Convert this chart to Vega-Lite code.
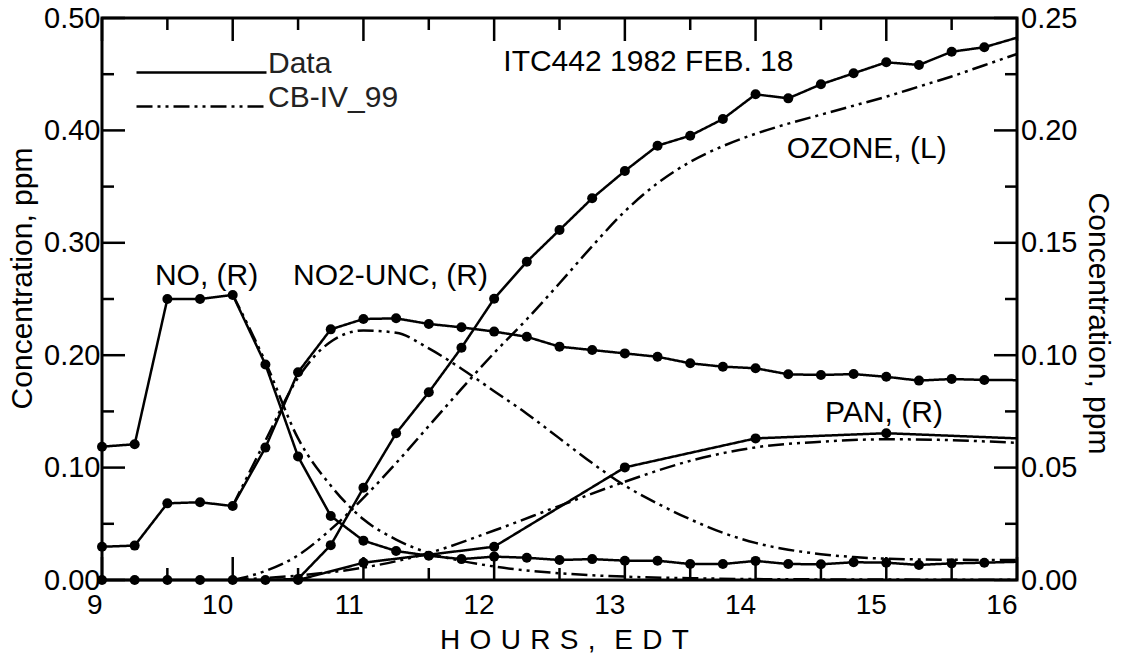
{
  "$schema": "https://vega.github.io/schema/vega-lite/v6.json",
  "width": 915,
  "height": 562,
  "autosize": {"type": "none"},
  "padding": {"left": 102, "top": 18, "right": 107, "bottom": 80},
  "background": "white",
  "config": {
    "view": {"stroke": "black", "strokeWidth": 3},
    "font": "Liberation Sans",
    "axis": {"grid": false, "labelColor": "black", "titleColor": "black", "titleFontWeight": "normal", "labelFont": "Liberation Sans", "titleFont": "Liberation Sans"}
  },
  "datasets": {
    "xticks": [
      {"value": 9, "kind": "major"}, {"value": 9.5, "kind": "minor"},
      {"value": 10, "kind": "major"}, {"value": 10.5, "kind": "minor"},
      {"value": 11, "kind": "major"}, {"value": 11.5, "kind": "minor"},
      {"value": 12, "kind": "major"}, {"value": 12.5, "kind": "minor"},
      {"value": 13, "kind": "major"}, {"value": 13.5, "kind": "minor"},
      {"value": 14, "kind": "major"}, {"value": 14.5, "kind": "minor"},
      {"value": 15, "kind": "major"}, {"value": 15.5, "kind": "minor"},
      {"value": 16, "kind": "major"}
    ],
    "lticks": [
      {"value": 0, "kind": "major"}, {"value": 0.05, "kind": "minor"},
      {"value": 0.1, "kind": "major"}, {"value": 0.15, "kind": "minor"},
      {"value": 0.2, "kind": "major"}, {"value": 0.25, "kind": "minor"},
      {"value": 0.3, "kind": "major"}, {"value": 0.35, "kind": "minor"},
      {"value": 0.4, "kind": "major"}, {"value": 0.45, "kind": "minor"},
      {"value": 0.5, "kind": "major"}
    ],
    "rticks": [
      {"value": 0, "kind": "major"}, {"value": 0.025, "kind": "minor"},
      {"value": 0.05, "kind": "major"}, {"value": 0.075, "kind": "minor"},
      {"value": 0.1, "kind": "major"}, {"value": 0.125, "kind": "minor"},
      {"value": 0.15, "kind": "major"}, {"value": 0.175, "kind": "minor"},
      {"value": 0.2, "kind": "major"}, {"value": 0.225, "kind": "minor"},
      {"value": 0.25, "kind": "major"}
    ],
    "ozone_obs": [
      {"hour": 9.0, "value": 0, "source": "Data"},
      {"hour": 9.25, "value": 0, "source": "Data"},
      {"hour": 9.5, "value": 0, "source": "Data"},
      {"hour": 9.75, "value": 0, "source": "Data"},
      {"hour": 10.0, "value": 0, "source": "Data"},
      {"hour": 10.25, "value": 0, "source": "Data"},
      {"hour": 10.5, "value": 0.001, "source": "Data"},
      {"hour": 10.75, "value": 0.031, "source": "Data"},
      {"hour": 11.0, "value": 0.082, "source": "Data"},
      {"hour": 11.25, "value": 0.1305, "source": "Data"},
      {"hour": 11.5, "value": 0.167, "source": "Data"},
      {"hour": 11.75, "value": 0.2067, "source": "Data"},
      {"hour": 12.0, "value": 0.2503, "source": "Data"},
      {"hour": 12.25, "value": 0.2832, "source": "Data"},
      {"hour": 12.5, "value": 0.3114, "source": "Data"},
      {"hour": 12.75, "value": 0.3396, "source": "Data"},
      {"hour": 13.0, "value": 0.3639, "source": "Data"},
      {"hour": 13.25, "value": 0.3864, "source": "Data"},
      {"hour": 13.5, "value": 0.3953, "source": "Data"},
      {"hour": 13.75, "value": 0.4101, "source": "Data"},
      {"hour": 14.0, "value": 0.4321, "source": "Data"},
      {"hour": 14.25, "value": 0.4285, "source": "Data"},
      {"hour": 14.5, "value": 0.441, "source": "Data"},
      {"hour": 14.75, "value": 0.4508, "source": "Data"},
      {"hour": 15.0, "value": 0.4606, "source": "Data"},
      {"hour": 15.25, "value": 0.4582, "source": "Data"},
      {"hour": 15.5, "value": 0.47, "source": "Data"},
      {"hour": 15.75, "value": 0.474, "source": "Data"},
      {"hour": 16.0, "value": 0.4825, "source": "Data"}
    ],
    "right_obs": [
      {"species": "NO", "hour": 9.0, "value": 0.0593, "source": "Data"},
      {"species": "NO", "hour": 9.25, "value": 0.0604, "source": "Data"},
      {"species": "NO", "hour": 9.5, "value": 0.125, "source": "Data"},
      {"species": "NO", "hour": 9.75, "value": 0.125, "source": "Data"},
      {"species": "NO", "hour": 10.0, "value": 0.1268, "source": "Data"},
      {"species": "NO", "hour": 10.25, "value": 0.0959, "source": "Data"},
      {"species": "NO", "hour": 10.5, "value": 0.0549, "source": "Data"},
      {"species": "NO", "hour": 10.75, "value": 0.0285, "source": "Data"},
      {"species": "NO", "hour": 11.0, "value": 0.0175, "source": "Data"},
      {"species": "NO", "hour": 11.25, "value": 0.0129, "source": "Data"},
      {"species": "NO", "hour": 11.5, "value": 0.0108, "source": "Data"},
      {"species": "NO", "hour": 11.75, "value": 0.0093, "source": "Data"},
      {"species": "NO", "hour": 12.0, "value": 0.0104, "source": "Data"},
      {"species": "NO", "hour": 12.25, "value": 0.0099, "source": "Data"},
      {"species": "NO", "hour": 12.5, "value": 0.0089, "source": "Data"},
      {"species": "NO", "hour": 12.75, "value": 0.0093, "source": "Data"},
      {"species": "NO", "hour": 13.0, "value": 0.0086, "source": "Data"},
      {"species": "NO", "hour": 13.25, "value": 0.0086, "source": "Data"},
      {"species": "NO", "hour": 13.5, "value": 0.0071, "source": "Data"},
      {"species": "NO", "hour": 13.75, "value": 0.0071, "source": "Data"},
      {"species": "NO", "hour": 14.0, "value": 0.0085, "source": "Data"},
      {"species": "NO", "hour": 14.25, "value": 0.0071, "source": "Data"},
      {"species": "NO", "hour": 14.5, "value": 0.007, "source": "Data"},
      {"species": "NO", "hour": 14.75, "value": 0.0079, "source": "Data"},
      {"species": "NO", "hour": 15.0, "value": 0.0077, "source": "Data"},
      {"species": "NO", "hour": 15.25, "value": 0.0067, "source": "Data"},
      {"species": "NO", "hour": 15.5, "value": 0.0074, "source": "Data"},
      {"species": "NO", "hour": 15.75, "value": 0.0077, "source": "Data"},
      {"species": "NO", "hour": 16.0, "value": 0.0081, "source": "Data"},
      {"species": "NO2-UNC", "hour": 9.0, "value": 0.0148, "source": "Data"},
      {"species": "NO2-UNC", "hour": 9.25, "value": 0.0153, "source": "Data"},
      {"species": "NO2-UNC", "hour": 9.5, "value": 0.0341, "source": "Data"},
      {"species": "NO2-UNC", "hour": 9.75, "value": 0.0346, "source": "Data"},
      {"species": "NO2-UNC", "hour": 10.0, "value": 0.0329, "source": "Data"},
      {"species": "NO2-UNC", "hour": 10.25, "value": 0.0589, "source": "Data"},
      {"species": "NO2-UNC", "hour": 10.5, "value": 0.0924, "source": "Data"},
      {"species": "NO2-UNC", "hour": 10.75, "value": 0.1115, "source": "Data"},
      {"species": "NO2-UNC", "hour": 11.0, "value": 0.1161, "source": "Data"},
      {"species": "NO2-UNC", "hour": 11.25, "value": 0.1164, "source": "Data"},
      {"species": "NO2-UNC", "hour": 11.5, "value": 0.1139, "source": "Data"},
      {"species": "NO2-UNC", "hour": 11.75, "value": 0.1124, "source": "Data"},
      {"species": "NO2-UNC", "hour": 12.0, "value": 0.1105, "source": "Data"},
      {"species": "NO2-UNC", "hour": 12.25, "value": 0.1082, "source": "Data"},
      {"species": "NO2-UNC", "hour": 12.5, "value": 0.1038, "source": "Data"},
      {"species": "NO2-UNC", "hour": 12.75, "value": 0.1023, "source": "Data"},
      {"species": "NO2-UNC", "hour": 13.0, "value": 0.1008, "source": "Data"},
      {"species": "NO2-UNC", "hour": 13.25, "value": 0.0993, "source": "Data"},
      {"species": "NO2-UNC", "hour": 13.5, "value": 0.0964, "source": "Data"},
      {"species": "NO2-UNC", "hour": 13.75, "value": 0.0949, "source": "Data"},
      {"species": "NO2-UNC", "hour": 14.0, "value": 0.0942, "source": "Data"},
      {"species": "NO2-UNC", "hour": 14.25, "value": 0.0915, "source": "Data"},
      {"species": "NO2-UNC", "hour": 14.5, "value": 0.0912, "source": "Data"},
      {"species": "NO2-UNC", "hour": 14.75, "value": 0.0916, "source": "Data"},
      {"species": "NO2-UNC", "hour": 15.0, "value": 0.0904, "source": "Data"},
      {"species": "NO2-UNC", "hour": 15.25, "value": 0.0887, "source": "Data"},
      {"species": "NO2-UNC", "hour": 15.5, "value": 0.0894, "source": "Data"},
      {"species": "NO2-UNC", "hour": 15.75, "value": 0.089, "source": "Data"},
      {"species": "NO2-UNC", "hour": 16.0, "value": 0.0889, "source": "Data"},
      {"species": "PAN", "hour": 10.5, "value": 0, "source": "Data"},
      {"species": "PAN", "hour": 11.0, "value": 0.0077, "source": "Data"},
      {"species": "PAN", "hour": 12.0, "value": 0.0148, "source": "Data"},
      {"species": "PAN", "hour": 13.0, "value": 0.0501, "source": "Data"},
      {"species": "PAN", "hour": 14.0, "value": 0.063, "source": "Data"},
      {"species": "PAN", "hour": 15.0, "value": 0.0653, "source": "Data"},
      {"species": "PAN", "hour": 16.0, "value": 0.063, "source": "Data"}
    ],
    "ozone_model": [
      {"hour": 10.0, "value": 0, "source": "CB-IV_99"},
      {"hour": 10.25, "value": 0.008, "source": "CB-IV_99"},
      {"hour": 10.5, "value": 0.022, "source": "CB-IV_99"},
      {"hour": 10.75, "value": 0.045, "source": "CB-IV_99"},
      {"hour": 11.0, "value": 0.073, "source": "CB-IV_99"},
      {"hour": 11.25, "value": 0.104, "source": "CB-IV_99"},
      {"hour": 11.5, "value": 0.137, "source": "CB-IV_99"},
      {"hour": 11.75, "value": 0.17, "source": "CB-IV_99"},
      {"hour": 12.0, "value": 0.202, "source": "CB-IV_99"},
      {"hour": 12.25, "value": 0.232, "source": "CB-IV_99"},
      {"hour": 12.5, "value": 0.264, "source": "CB-IV_99"},
      {"hour": 12.75, "value": 0.297, "source": "CB-IV_99"},
      {"hour": 13.0, "value": 0.328, "source": "CB-IV_99"},
      {"hour": 13.25, "value": 0.353, "source": "CB-IV_99"},
      {"hour": 13.5, "value": 0.372, "source": "CB-IV_99"},
      {"hour": 13.75, "value": 0.386, "source": "CB-IV_99"},
      {"hour": 14.0, "value": 0.397, "source": "CB-IV_99"},
      {"hour": 14.25, "value": 0.406, "source": "CB-IV_99"},
      {"hour": 14.5, "value": 0.414, "source": "CB-IV_99"},
      {"hour": 14.75, "value": 0.422, "source": "CB-IV_99"},
      {"hour": 15.0, "value": 0.43, "source": "CB-IV_99"},
      {"hour": 15.25, "value": 0.439, "source": "CB-IV_99"},
      {"hour": 15.5, "value": 0.448, "source": "CB-IV_99"},
      {"hour": 15.75, "value": 0.458, "source": "CB-IV_99"},
      {"hour": 16.0, "value": 0.468, "source": "CB-IV_99"}
    ],
    "right_model": [
      {"species": "NO", "hour": 10.0, "value": 0.127, "source": "CB-IV_99"},
      {"species": "NO", "hour": 10.25, "value": 0.097, "source": "CB-IV_99"},
      {"species": "NO", "hour": 10.5, "value": 0.063, "source": "CB-IV_99"},
      {"species": "NO", "hour": 10.75, "value": 0.042, "source": "CB-IV_99"},
      {"species": "NO", "hour": 11.0, "value": 0.027, "source": "CB-IV_99"},
      {"species": "NO", "hour": 11.25, "value": 0.018, "source": "CB-IV_99"},
      {"species": "NO", "hour": 11.5, "value": 0.012, "source": "CB-IV_99"},
      {"species": "NO", "hour": 11.75, "value": 0.0085, "source": "CB-IV_99"},
      {"species": "NO", "hour": 12.0, "value": 0.006, "source": "CB-IV_99"},
      {"species": "NO", "hour": 12.5, "value": 0.003, "source": "CB-IV_99"},
      {"species": "NO", "hour": 13.0, "value": 0.0015, "source": "CB-IV_99"},
      {"species": "NO", "hour": 13.5, "value": 0.0008, "source": "CB-IV_99"},
      {"species": "NO", "hour": 14.0, "value": 0.0004, "source": "CB-IV_99"},
      {"species": "NO", "hour": 15.0, "value": 0.0002, "source": "CB-IV_99"},
      {"species": "NO", "hour": 16.0, "value": 0.0001, "source": "CB-IV_99"},
      {"species": "NO2-UNC", "hour": 10.0, "value": 0.033, "source": "CB-IV_99"},
      {"species": "NO2-UNC", "hour": 10.25, "value": 0.062, "source": "CB-IV_99"},
      {"species": "NO2-UNC", "hour": 10.5, "value": 0.09, "source": "CB-IV_99"},
      {"species": "NO2-UNC", "hour": 10.75, "value": 0.106, "source": "CB-IV_99"},
      {"species": "NO2-UNC", "hour": 11.0, "value": 0.111, "source": "CB-IV_99"},
      {"species": "NO2-UNC", "hour": 11.25, "value": 0.11, "source": "CB-IV_99"},
      {"species": "NO2-UNC", "hour": 11.5, "value": 0.103, "source": "CB-IV_99"},
      {"species": "NO2-UNC", "hour": 11.75, "value": 0.094, "source": "CB-IV_99"},
      {"species": "NO2-UNC", "hour": 12.0, "value": 0.084, "source": "CB-IV_99"},
      {"species": "NO2-UNC", "hour": 12.25, "value": 0.074, "source": "CB-IV_99"},
      {"species": "NO2-UNC", "hour": 12.5, "value": 0.063, "source": "CB-IV_99"},
      {"species": "NO2-UNC", "hour": 12.75, "value": 0.052, "source": "CB-IV_99"},
      {"species": "NO2-UNC", "hour": 13.0, "value": 0.042, "source": "CB-IV_99"},
      {"species": "NO2-UNC", "hour": 13.25, "value": 0.034, "source": "CB-IV_99"},
      {"species": "NO2-UNC", "hour": 13.5, "value": 0.027, "source": "CB-IV_99"},
      {"species": "NO2-UNC", "hour": 13.75, "value": 0.021, "source": "CB-IV_99"},
      {"species": "NO2-UNC", "hour": 14.0, "value": 0.0165, "source": "CB-IV_99"},
      {"species": "NO2-UNC", "hour": 14.25, "value": 0.0135, "source": "CB-IV_99"},
      {"species": "NO2-UNC", "hour": 14.5, "value": 0.0115, "source": "CB-IV_99"},
      {"species": "NO2-UNC", "hour": 14.75, "value": 0.0102, "source": "CB-IV_99"},
      {"species": "NO2-UNC", "hour": 15.0, "value": 0.0095, "source": "CB-IV_99"},
      {"species": "NO2-UNC", "hour": 15.5, "value": 0.009, "source": "CB-IV_99"},
      {"species": "NO2-UNC", "hour": 16.0, "value": 0.0089, "source": "CB-IV_99"},
      {"species": "PAN", "hour": 10.0, "value": 0, "source": "CB-IV_99"},
      {"species": "PAN", "hour": 10.5, "value": 0.002, "source": "CB-IV_99"},
      {"species": "PAN", "hour": 11.0, "value": 0.0055, "source": "CB-IV_99"},
      {"species": "PAN", "hour": 11.5, "value": 0.012, "source": "CB-IV_99"},
      {"species": "PAN", "hour": 12.0, "value": 0.022, "source": "CB-IV_99"},
      {"species": "PAN", "hour": 12.5, "value": 0.033, "source": "CB-IV_99"},
      {"species": "PAN", "hour": 13.0, "value": 0.0437, "source": "CB-IV_99"},
      {"species": "PAN", "hour": 13.5, "value": 0.053, "source": "CB-IV_99"},
      {"species": "PAN", "hour": 14.0, "value": 0.059, "source": "CB-IV_99"},
      {"species": "PAN", "hour": 14.5, "value": 0.0615, "source": "CB-IV_99"},
      {"species": "PAN", "hour": 15.0, "value": 0.0626, "source": "CB-IV_99"},
      {"species": "PAN", "hour": 15.5, "value": 0.0622, "source": "CB-IV_99"},
      {"species": "PAN", "hour": 16.0, "value": 0.061, "source": "CB-IV_99"}
    ],
    "labels": [
      {"label": "NO, (R)", "hour": 9.405, "value": 0.2625},
      {"label": "NO2-UNC, (R)", "hour": 10.461, "value": 0.2625},
      {"label": "OZONE, (L)", "hour": 14.238, "value": 0.3754},
      {"label": "PAN, (R)", "hour": 14.532, "value": 0.1408},
      {"label": "ITC442 1982 FEB. 18", "hour": 12.07, "value": 0.4528}
    ]
  },
  "resolve": {"scale": {"y": "independent"}, "axis": {"x": "independent", "y": "independent"}},
  "layer": [
    {
      "data": {"name": "xticks"},
      "transform": [{"filter": "datum.kind === 'major'"}],
      "mark": {"type": "tick", "orient": "vertical", "size": 23, "thickness": 2.5, "yOffset": -11.5, "color": "black", "opacity": 1},
      "encoding": {
        "x": {"field": "value", "type": "quantitative", "scale": {"domain": [9, 16], "nice": false, "zero": false}, "axis": null},
        "y": {"datum": 0, "type": "quantitative", "scale": {"domain": [0, 0.5], "nice": false}, "axis": null}
      }
    },
    {
      "data": {"name": "xticks"},
      "transform": [{"filter": "datum.kind === 'minor'"}],
      "mark": {"type": "tick", "orient": "vertical", "size": 12, "thickness": 2.5, "yOffset": -6, "color": "black", "opacity": 1},
      "encoding": {
        "x": {"field": "value", "type": "quantitative", "scale": {"domain": [9, 16], "nice": false, "zero": false}, "axis": null},
        "y": {"datum": 0, "type": "quantitative", "scale": {"domain": [0, 0.5], "nice": false}, "axis": null}
      }
    },
    {
      "data": {"name": "xticks"},
      "transform": [{"filter": "datum.kind === 'major'"}],
      "mark": {"type": "tick", "orient": "vertical", "size": 23, "thickness": 2.5, "yOffset": 11.5, "color": "black", "opacity": 1},
      "encoding": {
        "x": {"field": "value", "type": "quantitative", "scale": {"domain": [9, 16], "nice": false, "zero": false}, "axis": null},
        "y": {"datum": 0.5, "type": "quantitative", "scale": {"domain": [0, 0.5], "nice": false}, "axis": null}
      }
    },
    {
      "data": {"name": "xticks"},
      "transform": [{"filter": "datum.kind === 'minor'"}],
      "mark": {"type": "tick", "orient": "vertical", "size": 12, "thickness": 2.5, "yOffset": 6, "color": "black", "opacity": 1},
      "encoding": {
        "x": {"field": "value", "type": "quantitative", "scale": {"domain": [9, 16], "nice": false, "zero": false}, "axis": null},
        "y": {"datum": 0.5, "type": "quantitative", "scale": {"domain": [0, 0.5], "nice": false}, "axis": null}
      }
    },
    {
      "data": {"name": "lticks"},
      "transform": [{"filter": "datum.kind === 'major'"}],
      "mark": {"type": "tick", "orient": "horizontal", "size": 23, "thickness": 2.5, "xOffset": 11.5, "color": "black", "opacity": 1},
      "encoding": {
        "x": {"datum": 9, "type": "quantitative", "scale": {"domain": [9, 16], "nice": false, "zero": false}, "axis": null},
        "y": {"field": "value", "type": "quantitative", "scale": {"domain": [0, 0.5], "nice": false}, "axis": null}
      }
    },
    {
      "data": {"name": "lticks"},
      "transform": [{"filter": "datum.kind === 'minor'"}],
      "mark": {"type": "tick", "orient": "horizontal", "size": 12, "thickness": 2.5, "xOffset": 6, "color": "black", "opacity": 1},
      "encoding": {
        "x": {"datum": 9, "type": "quantitative", "scale": {"domain": [9, 16], "nice": false, "zero": false}, "axis": null},
        "y": {"field": "value", "type": "quantitative", "scale": {"domain": [0, 0.5], "nice": false}, "axis": null}
      }
    },
    {
      "data": {"name": "rticks"},
      "transform": [{"filter": "datum.kind === 'major'"}],
      "mark": {"type": "tick", "orient": "horizontal", "size": 23, "thickness": 2.5, "xOffset": -11.5, "color": "black", "opacity": 1},
      "encoding": {
        "x": {"datum": 16, "type": "quantitative", "scale": {"domain": [9, 16], "nice": false, "zero": false}, "axis": null},
        "y": {"field": "value", "type": "quantitative", "scale": {"domain": [0, 0.25], "nice": false}, "axis": null}
      }
    },
    {
      "data": {"name": "rticks"},
      "transform": [{"filter": "datum.kind === 'minor'"}],
      "mark": {"type": "tick", "orient": "horizontal", "size": 12, "thickness": 2.5, "xOffset": -6, "color": "black", "opacity": 1},
      "encoding": {
        "x": {"datum": 16, "type": "quantitative", "scale": {"domain": [9, 16], "nice": false, "zero": false}, "axis": null},
        "y": {"field": "value", "type": "quantitative", "scale": {"domain": [0, 0.25], "nice": false}, "axis": null}
      }
    },
    {
      "data": {"name": "ozone_model"},
      "mark": {"type": "line", "color": "black", "strokeWidth": 2.5, "interpolate": "monotone"},
      "encoding": {
        "x": {"field": "hour", "type": "quantitative", "scale": {"domain": [9, 16], "nice": false, "zero": false}, "axis": null},
        "y": {"field": "value", "type": "quantitative", "scale": {"domain": [0, 0.5], "nice": false}, "axis": null},
        "strokeDash": {"field": "source", "type": "nominal", "title": null,
          "scale": {"domain": ["Data", "CB-IV_99"], "range": [[1, 0], [16, 5, 3, 5, 3, 5]]},
          "legend": {"orient": "none", "legendX": 33, "legendY": 45, "symbolType": "stroke", "symbolSize": 16900, "symbolStrokeWidth": 2.5, "symbolStrokeColor": "black", "clipHeight": 19, "rowPadding": 0, "labelFontSize": 30, "labelFont": "Liberation Sans", "labelBaseline": "alphabetic", "labelOffset": 0, "labelColor": "#222222", "labelLimit": 300}}
      }
    },
    {
      "data": {"name": "right_model"},
      "mark": {"type": "line", "color": "black", "strokeWidth": 2.5, "interpolate": "monotone"},
      "encoding": {
        "x": {"field": "hour", "type": "quantitative", "scale": {"domain": [9, 16], "nice": false, "zero": false}, "axis": null},
        "y": {"field": "value", "type": "quantitative", "scale": {"domain": [0, 0.25], "nice": false}, "axis": null},
        "detail": {"field": "species"},
        "strokeDash": {"field": "source", "type": "nominal", "title": null,
          "scale": {"domain": ["Data", "CB-IV_99"], "range": [[1, 0], [16, 5, 3, 5, 3, 5]]},
          "legend": {"orient": "none", "legendX": 33, "legendY": 45, "symbolType": "stroke", "symbolSize": 16900, "symbolStrokeWidth": 2.5, "symbolStrokeColor": "black", "clipHeight": 19, "rowPadding": 0, "labelFontSize": 30, "labelFont": "Liberation Sans", "labelBaseline": "alphabetic", "labelOffset": 0, "labelColor": "#222222", "labelLimit": 300}}
      }
    },
    {
      "data": {"name": "ozone_obs"},
      "mark": {"type": "line", "color": "black", "strokeWidth": 2.5},
      "encoding": {
        "x": {"field": "hour", "type": "quantitative", "scale": {"domain": [9, 16], "nice": false, "zero": false},
          "axis": {"orient": "bottom", "values": [9, 10, 11, 12, 13, 14, 15, 16], "format": "d", "ticks": false, "domain": false,
            "labelAlign": "right", "labelBaseline": "alphabetic", "labelPadding": 33, "labelFontSize": 28, "labelFlush": false, "labelOverlap": false, "labelBound": false,
            "title": "H\u2004O\u2004U\u2004R\u2004S\u2004,\u2004\u2004E\u2004D\u2004T", "titleFontSize": 28, "titleX": 462, "titleY": 68, "titleBaseline": "alphabetic", "titleAlign": "center", "titleAnchor": "middle"}},
        "y": {"field": "value", "type": "quantitative", "scale": {"domain": [0, 0.5], "nice": false},
          "axis": {"orient": "left", "values": [0, 0.1, 0.2, 0.3, 0.4, 0.5], "format": ".2f", "ticks": false, "domain": false,
            "labelAlign": "right", "labelBaseline": "middle", "labelPadding": 2, "labelFontSize": 29, "labelFlush": false, "labelOverlap": false, "labelBound": false,
            "title": "Concentration, ppm", "titleFontSize": 30, "titleAngle": 270, "titleX": -71, "titleY": 260, "titleBaseline": "alphabetic", "titleAlign": "center"}},
        "strokeDash": {"field": "source", "type": "nominal", "title": null,
          "scale": {"domain": ["Data", "CB-IV_99"], "range": [[1, 0], [16, 5, 3, 5, 3, 5]]},
          "legend": {"orient": "none", "legendX": 33, "legendY": 45, "symbolType": "stroke", "symbolSize": 16900, "symbolStrokeWidth": 2.5, "symbolStrokeColor": "black", "clipHeight": 19, "rowPadding": 0, "labelFontSize": 30, "labelFont": "Liberation Sans", "labelBaseline": "alphabetic", "labelOffset": 0, "labelColor": "#222222", "labelLimit": 300}}
      }
    },
    {
      "data": {"name": "right_obs"},
      "mark": {"type": "line", "color": "black", "strokeWidth": 2.5},
      "encoding": {
        "x": {"field": "hour", "type": "quantitative", "scale": {"domain": [9, 16], "nice": false, "zero": false}, "axis": null},
        "y": {"field": "value", "type": "quantitative", "scale": {"domain": [0, 0.25], "nice": false},
          "axis": {"orient": "right", "values": [0, 0.05, 0.1, 0.15, 0.2, 0.25], "format": ".2f", "ticks": false, "domain": false,
            "labelAlign": "left", "labelBaseline": "middle", "labelPadding": 3.5, "labelFontSize": 29, "labelFlush": false, "labelOverlap": false, "labelBound": false,
            "title": "Concentration, ppm", "titleFontSize": 30, "titleAngle": 90, "titleX": 71, "titleY": 305, "titleBaseline": "alphabetic", "titleAlign": "center"}},
        "detail": {"field": "species"},
        "strokeDash": {"field": "source", "type": "nominal", "title": null,
          "scale": {"domain": ["Data", "CB-IV_99"], "range": [[1, 0], [16, 5, 3, 5, 3, 5]]},
          "legend": {"orient": "none", "legendX": 33, "legendY": 45, "symbolType": "stroke", "symbolSize": 16900, "symbolStrokeWidth": 2.5, "symbolStrokeColor": "black", "clipHeight": 19, "rowPadding": 0, "labelFontSize": 30, "labelFont": "Liberation Sans", "labelBaseline": "alphabetic", "labelOffset": 0, "labelColor": "#222222", "labelLimit": 300}}
      }
    },
    {
      "data": {"name": "ozone_obs"},
      "transform": [{"filter": "datum.hour < 16"}],
      "mark": {"type": "point", "filled": true, "shape": "circle", "size": 100, "color": "black", "opacity": 1},
      "encoding": {
        "x": {"field": "hour", "type": "quantitative", "scale": {"domain": [9, 16], "nice": false, "zero": false}, "axis": null},
        "y": {"field": "value", "type": "quantitative", "scale": {"domain": [0, 0.5], "nice": false}, "axis": null}
      }
    },
    {
      "data": {"name": "right_obs"},
      "transform": [{"filter": "datum.hour < 16"}],
      "mark": {"type": "point", "filled": true, "shape": "circle", "size": 100, "color": "black", "opacity": 1},
      "encoding": {
        "x": {"field": "hour", "type": "quantitative", "scale": {"domain": [9, 16], "nice": false, "zero": false}, "axis": null},
        "y": {"field": "value", "type": "quantitative", "scale": {"domain": [0, 0.25], "nice": false}, "axis": null}
      }
    },
    {
      "data": {"name": "labels"},
      "mark": {"type": "text", "align": "left", "baseline": "alphabetic", "fontSize": 30, "font": "Liberation Sans", "color": "black"},
      "encoding": {
        "x": {"field": "hour", "type": "quantitative", "scale": {"domain": [9, 16], "nice": false, "zero": false}, "axis": null},
        "y": {"field": "value", "type": "quantitative", "scale": {"domain": [0, 0.5], "nice": false}, "axis": null},
        "text": {"field": "label"}
      }
    }
  ]
}
